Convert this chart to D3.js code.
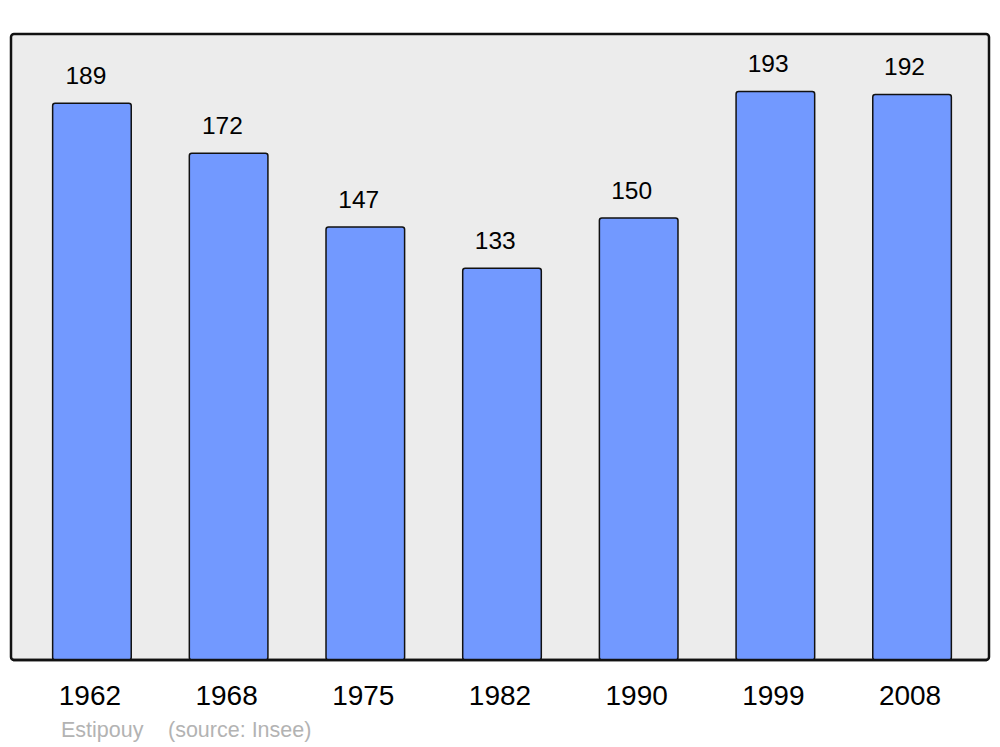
<!DOCTYPE html>
<html>
<head>
<meta charset="utf-8">
<script src="https://cdn.jsdelivr.net/npm/d3@7"></script>
<style>
  body { margin: 0; background: #fff; }
  svg { display: block; font-family: "Liberation Sans", Arial, sans-serif; }
</style>
</head>
<body>
<svg id="chart" width="1000" height="747"></svg>
<script>
// population by census year
const years = ["1962", "1968", "1975", "1982", "1990", "1999", "2008"];
const population = [189, 172, 147, 133, 150, 193, 192];
const commune = "Estipouy";
const source = "(source: Insee)";

const svg = d3.select("#chart");

// plot frame
const frame = { left: 11, top: 34, right: 989, bottom: 660 };

svg.append("rect")
  .attr("x", frame.left)
  .attr("y", frame.top)
  .attr("width", frame.right - frame.left)
  .attr("height", frame.bottom - frame.top)
  .attr("rx", 3)
  .attr("fill", "#ececec")
  .attr("stroke", "#111")
  .attr("stroke-width", 2.5);

const xScale = d3.scaleBand()
  .domain(years)
  .range([13, 991])
  .paddingInner(0.425)
  .paddingOuter(0.29);

const yScale = d3.scaleLinear()
  .domain([0, 212.5])
  .range([frame.bottom, frame.top]);

const data = years.map((y, i) => ({ year: y, value: population[i] }));

// bars
svg.append("g")
  .selectAll("rect")
  .data(data)
  .enter()
  .append("rect")
  .attr("x", d => xScale(d.year))
  .attr("y", d => yScale(d.value))
  .attr("width", xScale.bandwidth())
  .attr("height", d => yScale(0) - yScale(d.value))
  .attr("rx", 2.5)
  .attr("fill", "#7299ff")
  .attr("stroke", "#111")
  .attr("stroke-width", 1.5);

// redraw frame bottom edge over bars
svg.append("line")
  .attr("x1", frame.left + 2)
  .attr("x2", frame.right - 2)
  .attr("y1", frame.bottom)
  .attr("y2", frame.bottom)
  .attr("stroke", "#111")
  .attr("stroke-width", 2.5);

// value labels
svg.append("g")
  .selectAll("text")
  .data(data)
  .enter()
  .append("text")
  .attr("x", (d, i) => xScale(d.year) + xScale.bandwidth() / 2 - 6 - i * 0.25)
  .attr("y", d => yScale(d.value) - 19)
  .attr("text-anchor", "middle")
  .attr("font-size", 24.5)
  .attr("fill", "#000")
  .text(d => d.value);

// year labels
svg.append("g")
  .selectAll("text")
  .data(data)
  .enter()
  .append("text")
  .attr("x", d => xScale(d.year) + xScale.bandwidth() / 2 - 2)
  .attr("y", 705)
  .attr("text-anchor", "middle")
  .attr("font-size", 28)
  .attr("fill", "#000")
  .text(d => d.year);

// caption
const caption = svg.append("g")
  .attr("font-size", 21.5)
  .attr("fill", "#b3b3b3");
caption.append("text")
  .attr("x", 61)
  .attr("y", 737)
  .text(commune);
caption.append("text")
  .attr("x", 168)
  .attr("y", 737)
  .text(source);
</script>
</body>
</html>
